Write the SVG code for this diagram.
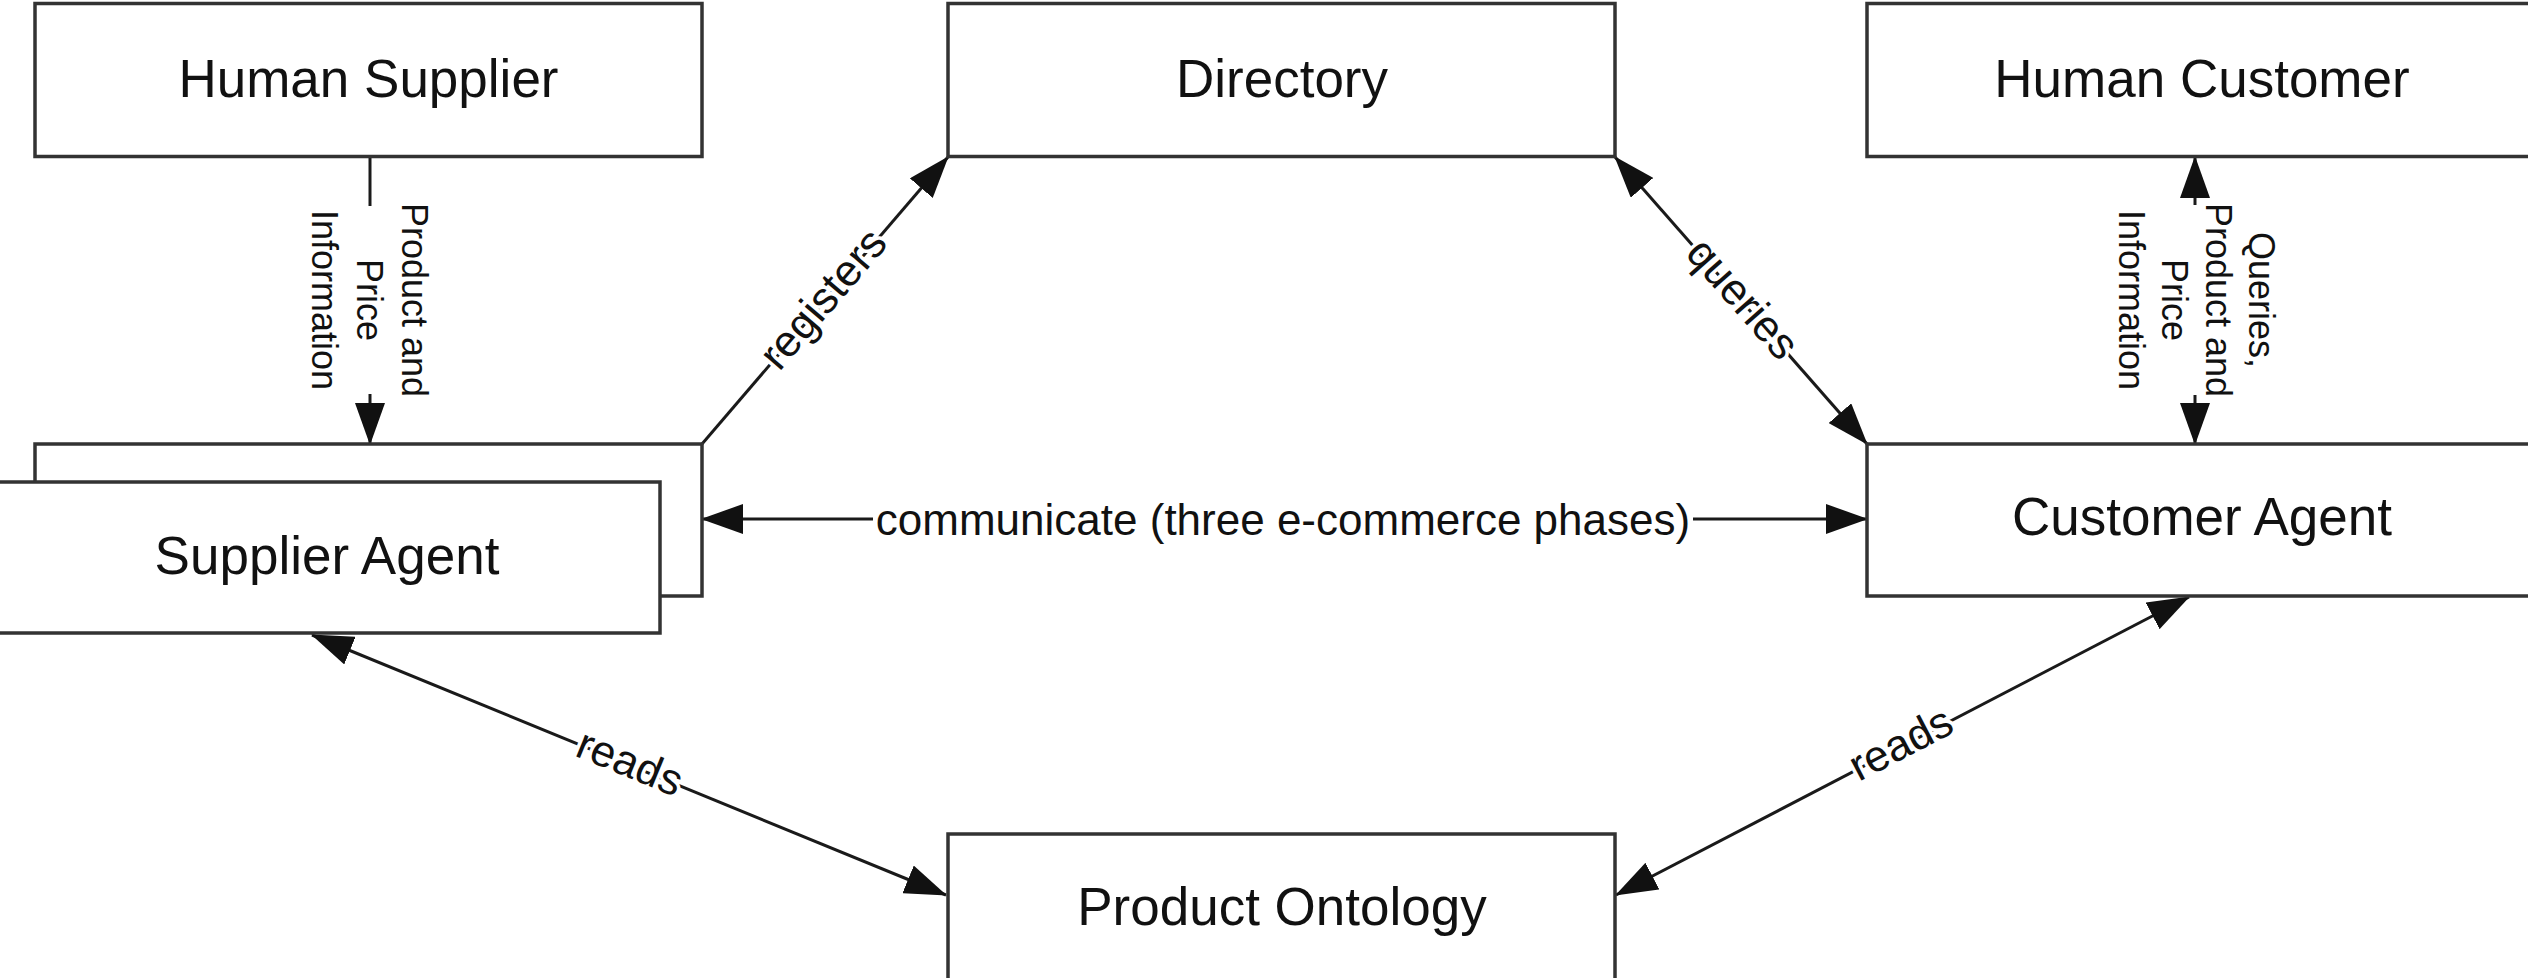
<svg xmlns="http://www.w3.org/2000/svg" width="2528" height="978" viewBox="0 0 2528 978">
<defs>
<marker id="arr" markerUnits="userSpaceOnUse" viewBox="0 0 42 30" markerWidth="42" markerHeight="30" refX="41" refY="15" orient="auto-start-reverse">
<path d="M0,0 L42,15 L0,30 z" fill="#111"/>
</marker>
<style>
.box{fill:#fff;stroke:#333;stroke-width:3.5}
.nt{font-family:"Liberation Sans",Arial,sans-serif;font-size:53px;fill:#111;text-anchor:middle}
.ln{stroke:#1a1a1a;stroke-width:3;fill:none}
.lb{font-family:"Liberation Sans",Arial,sans-serif;font-size:44px;fill:#111;text-anchor:middle;stroke:#fff;stroke-width:7;paint-order:stroke;stroke-linejoin:round}
.vl{font-family:"Liberation Sans",Arial,sans-serif;font-size:36px;fill:#111;text-anchor:middle}
</style>
</defs>
<rect width="2528" height="978" fill="#fff"/>
<g id="connectors">
<line class="ln" x1="370" y1="157" x2="370" y2="206"/>
<line class="ln" x1="370" y1="394" x2="370" y2="444" marker-end="url(#arr)"/>
<g transform="translate(370,300) rotate(90)">
<text class="vl" x="0" y="-32">Product and</text>
<text class="vl" x="0" y="13">Price</text>
<text class="vl" x="0" y="58">Information</text>
</g>
<line class="ln" x1="2195" y1="205" x2="2195" y2="157" marker-end="url(#arr)"/>
<line class="ln" x1="2195" y1="395" x2="2195" y2="444" marker-end="url(#arr)"/>
<g transform="translate(2197,300) rotate(90)">
<text class="vl" x="0" y="-52">Queries,</text>
<text class="vl" x="0" y="-8.5">Product and</text>
<text class="vl" x="0" y="35">Price</text>
<text class="vl" x="0" y="78.5">Information</text>
</g>
<line class="ln" x1="702" y1="444" x2="948" y2="157" marker-end="url(#arr)"/>
<text class="lb" transform="translate(825,300.5) rotate(-49.4)" x="0" y="12">registers</text>
<line class="ln" x1="1615" y1="157" x2="1867" y2="444" marker-start="url(#arr)" marker-end="url(#arr)"/>
<text class="lb" transform="translate(1741,300.5) rotate(48.7)" x="0" y="12">queries</text>
<line class="ln" x1="873" y1="519" x2="702" y2="519" marker-end="url(#arr)"/>
<line class="ln" x1="1693" y1="519" x2="1867" y2="519" marker-end="url(#arr)"/>
<text class="lb" x="1283" y="535">communicate (three e-commerce phases)</text>
<line class="ln" x1="312" y1="635" x2="946" y2="895" marker-start="url(#arr)" marker-end="url(#arr)"/>
<text class="lb" transform="translate(629,765) rotate(22.3)" x="0" y="12">reads</text>
<line class="ln" x1="1616" y1="895" x2="2189" y2="597" marker-start="url(#arr)" marker-end="url(#arr)"/>
<text class="lb" transform="translate(1902,746) rotate(-27.5)" x="0" y="12">reads</text>
</g>
<g id="human-supplier">
<rect class="box" x="35" y="3.5" width="667" height="153"/>
<text class="nt" x="368.5" y="97">Human Supplier</text>
</g>
<g id="directory">
<rect class="box" x="948" y="3.5" width="667" height="153"/>
<text class="nt" x="1282" y="97">Directory</text>
</g>
<g id="human-customer">
<rect class="box" x="1867" y="3.5" width="670" height="153"/>
<text class="nt" x="2202" y="97">Human Customer</text>
</g>
<g id="supplier-agent">
<rect class="box" x="35" y="444" width="667" height="152"/>
<rect class="box" x="-6" y="482" width="666" height="151"/>
<text class="nt" x="327" y="574">Supplier Agent</text>
</g>
<g id="customer-agent">
<rect class="box" x="1867" y="444" width="670" height="152"/>
<text class="nt" x="2202" y="535">Customer Agent</text>
</g>
<g id="product-ontology">
<rect class="box" x="948" y="834" width="667" height="153"/>
<text class="nt" x="1282" y="925">Product Ontology</text>
</g>
</svg>
